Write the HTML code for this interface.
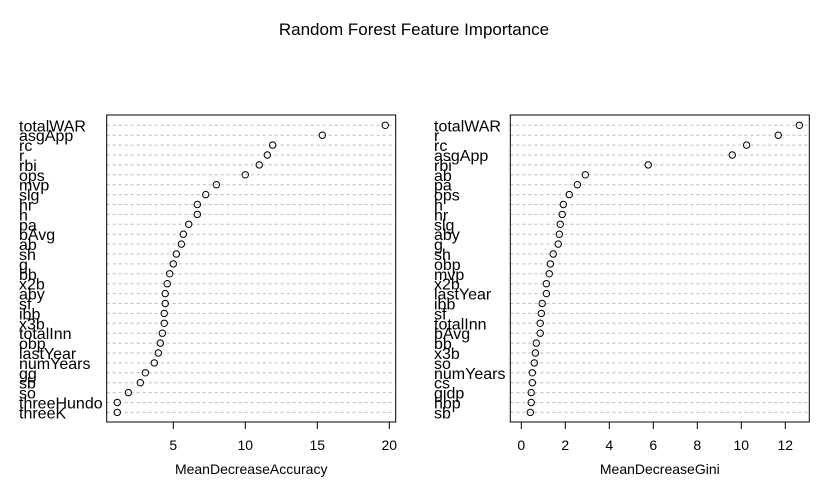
<!DOCTYPE html>
<html><head><meta charset="utf-8"><style>
body{margin:0;background:#fff}
svg{display:block;font-family:"Liberation Sans",Arial,sans-serif}
</style></head><body>
<svg id="c" width="830" height="499">
<text x="414" y="35" font-size="17" text-anchor="middle">Random Forest Feature Importance</text>
</svg>
<script>
const accLabels=["totalWAR","asgApp","rc","r","rbi","ops","mvp","slg","hr","h","pa","bAvg","ab","sh","g","bb","x2b","aby","sf","ibb","x3b","totalInn","obp","lastYear","numYears","gg","sb","so","threeHundo","threeK"];
const accValues=[19.72,15.35,11.9,11.53,10.97,10.0,7.99,7.25,6.67,6.67,6.07,5.70,5.56,5.21,5.0,4.75,4.58,4.44,4.44,4.37,4.37,4.24,4.10,3.96,3.68,3.06,2.71,1.88,1.11,1.11];
const accTicks=[5,10,15,20];
const giniLabels=["totalWAR","r","rc","asgApp","rbi","ab","pa","ops","h","hr","slg","aby","g","sh","obp","mvp","x2b","lastYear","ibb","sf","totalInn","bAvg","bb","x3b","so","numYears","cs","gidp","hbp","sb"];
const giniValues=[12.64,11.68,10.24,9.59,5.77,2.91,2.55,2.18,1.91,1.86,1.77,1.73,1.68,1.45,1.32,1.27,1.14,1.14,0.95,0.91,0.86,0.86,0.68,0.64,0.59,0.50,0.50,0.45,0.45,0.41];
const giniTicks=[0,2,4,6,8,10,12];
const svg=document.getElementById('c');
const NS='http://www.w3.org/2000/svg';
function mk(t,a){const e=document.createElementNS(NS,t);for(const k in a)e.setAttribute(k,a[k]);svg.appendChild(e);return e;}
function panel(p){
  const x=v=>p.x0px+(v-p.v0)*p.scale;
  const yTop=125.3,step=9.9;
  const y=i=>yTop+i*step;
  p.labels.forEach((lab,i)=>{
    const g=mk('line',{x1:p.left,x2:p.right,y1:y(i),y2:y(i),stroke:'#bebebe','stroke-dasharray':'3,3','stroke-width':1});
    
    
    const t=mk('text',{x:p.labX,y:y(i)+6,'font-size':16});
    t.textContent=lab;
    
    
  });
  p.values.forEach((v,i)=>{
    const c=mk('circle',{cx:x(v),cy:y(i),r:3.2,fill:'none',stroke:'#000','stroke-width':1});
    
    
  });
  const b=mk('rect',{x:p.left,y:115,width:p.right-p.left,height:307,fill:'none',stroke:'#000','stroke-width':1});
  
  
  p.ticks.forEach(v=>{
    const l=mk('line',{x1:x(v),x2:x(v),y1:422,y2:429,stroke:'#000'});
    
    
    const t=mk('text',{x:x(v),y:450,'font-size':14,'text-anchor':'middle'});
    t.textContent=v;
    
    
  });
  const t=mk('text',{x:(p.left+p.right)/2,y:474,'font-size':14,'text-anchor':'middle'});
  t.textContent=p.title;
  
  
}
panel({labels:accLabels,values:accValues,ticks:accTicks,left:106.7,right:395.7,labX:19,x0px:173.3,v0:5,scale:14.4,title:'MeanDecreaseAccuracy'});
panel({labels:giniLabels,values:giniValues,ticks:giniTicks,left:510.3,right:809.3,labX:434,x0px:521.3,v0:0,scale:22,title:'MeanDecreaseGini'});
</script>
</body></html>
